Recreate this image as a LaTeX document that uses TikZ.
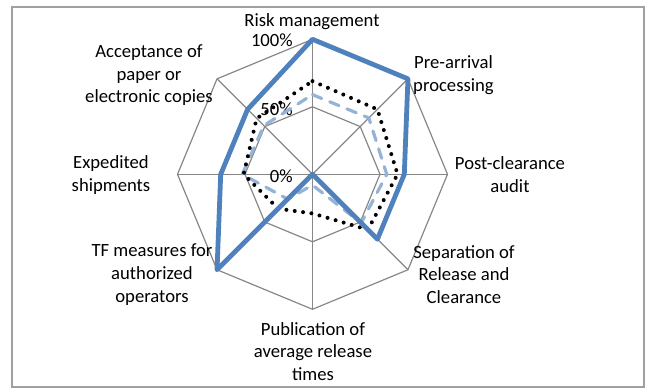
\documentclass[tikz,border=0pt]{standalone}
\usepackage{fontspec}
\setmainfont{Carlito}
\definecolor{gridgray}{HTML}{878787}
\definecolor{frame}{HTML}{A0A0A0}
\definecolor{serdark}{HTML}{4F81BD}
\definecolor{serlight}{HTML}{95B3D7}
\newcommand{\R}{135}

\begin{document}
\begin{tikzpicture}[x=0.75pt,y=0.75pt,
    axlabel/.style={font=\fontsize{14}{17}\selectfont,align=center,inner sep=0pt},
    pctlabel/.style={font=\fontsize{14}{17}\selectfont,anchor=east,inner sep=0pt},
    gridline/.style={draw=gridgray,line width=0.9pt},
    serfull/.style={draw=serdark,line width=3.6pt,line join=round},
    serdash/.style={draw=serlight,line width=2.4pt,line cap=round,dash pattern=on 7.5pt off 6.5pt},
    serdot/.style={draw=black,line width=3pt,line cap=round,dash pattern=on 0pt off 6.3pt}]
    \useasboundingbox (-312.5,-213.7) rectangle (334.5,174.3);
    \draw[frame,line width=1pt] (-300.5,167.3) rectangle (331.5,-212.7);
    % web
    \foreach \r in {67.5,\R}
        \draw[gridline] (90:\r) \foreach \a in {45,0,...,-225} { -- (\a:\r) } -- cycle;
    \foreach \a in {90,45,...,-225}
        \draw[gridline] (0,0) -- (\a:\R);
    % scale
    \node[pctlabel] (pct100) at (-19.5,133.6) {100\%};
    \node[pctlabel] (pct50) at (-19.5,65) {50\%};
    \node[pctlabel] (pct0) at (-19.5,-1.7) {0\%};
    % categories
    \node[axlabel] (risk) at (-0.5,152.6) {Risk management};
    \node[axlabel] (prearr) at (141,99.3) {Pre-arrival\\processing};
    \node[axlabel] (postcl) at (197.5,-0.4) {Post-clearance\\audit};
    \node[axlabel] (separ) at (151.5,-100.2) {Separation of\\Release and\\Clearance};
    \node[axlabel] (publ) at (0.5,-177.1) {Publication of\\average release\\times};
    \node[axlabel] (tfops) at (-160.5,-100.2) {TF measures for\\authorized\\operators};
    \node[axlabel] (exped) at (-201.5,-0.4) {Expedited\\shipments};
    \node[axlabel] (accept) at (-163.5,99) {Acceptance of\\paper or\\electronic copies};
    % series
    \draw[serdash] (90:{0.59*\R}) -- (45:{0.59*\R}) -- (0:{0.55*\R}) -- (-45:{0.51*\R})
        -- (-90:{0.08*\R}) -- (-135:{0.26*\R}) -- (180:{0.52*\R}) -- (135:{0.51*\R}) -- cycle;
    \draw[serdot] (90:{0.69*\R}) -- (45:{0.68*\R}) -- (0:{0.63*\R}) -- (-45:{0.58*\R})
        -- (-90:{0.29*\R}) -- (-135:{0.36*\R}) -- (180:{0.51*\R}) -- (135:{0.585*\R}) -- cycle;
    \draw[serfull] (90:\R) -- (45:\R) -- (0:{0.68*\R}) -- (-45:{0.68*\R})
        -- (0,0) -- (-135:\R) -- (180:{0.68*\R}) -- (135:{0.68*\R}) -- cycle;
\end{tikzpicture}
\end{document}
